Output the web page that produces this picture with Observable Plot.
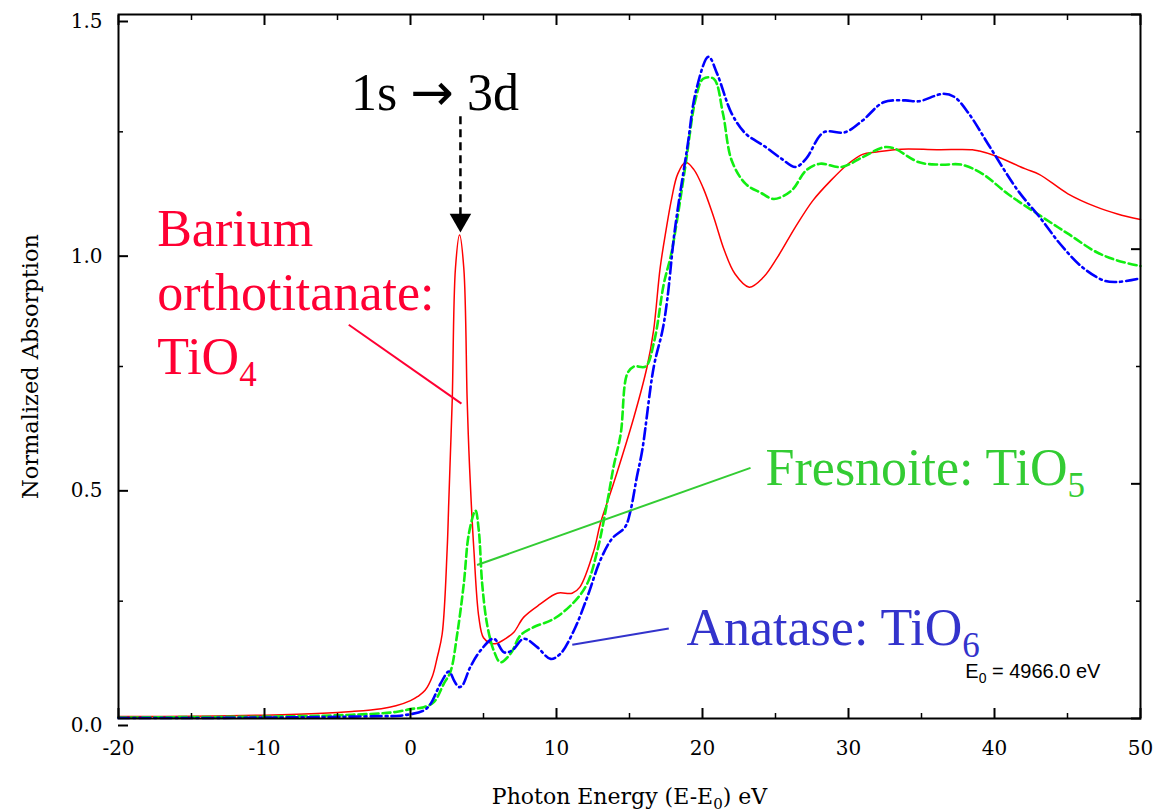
<!DOCTYPE html>
<html>
<head>
<meta charset="utf-8">
<script src="https://cdn.jsdelivr.net/npm/d3@7"></script>
<script src="https://cdn.jsdelivr.net/npm/@observablehq/plot@0.6"></script>
<style>
  html, body { margin: 0; padding: 0; background: #fff; }
  #chart { width: 1157px; height: 810px; }
</style>
</head>
<body>
<div id="chart"></div>
<script>
// ---- Barium orthotitanate: TiO4 (red, solid)
const tio4E = [-20, -15, -10, -6, -4, -2, -1, 0, 0.5, 1, 1.5, 1.83, 2.17, 2.51, 2.62, 2.74, 2.86, 3.08, 3.36, 3.65, 3.88, 4.0, 4.16, 4.34, 4.68, 5.0, 5.5, 5.9, 6.5, 7.08, 7.76, 8.9, 10.05, 11.07, 11.6, 12.56, 13.0, 13.9, 15.3, 16.2, 16.65, 17.1, 17.5, 17.9, 18.3, 18.84, 19.4, 20.05, 20.77, 21.5, 22.23, 23.2, 24.17, 25.14, 26.36, 27.57, 28.78, 29.99, 30.96, 31.93, 33.63, 36.05, 38.48, 38.97, 39.94, 42.12, 43.09, 45.03, 46.97, 48.42, 50];
const tio4A = [0.004, 0.005, 0.007, 0.011, 0.015, 0.021, 0.027, 0.038, 0.047, 0.06, 0.09, 0.13, 0.18, 0.36, 0.46, 0.57, 0.68, 0.96, 1.03, 0.96, 0.68, 0.57, 0.46, 0.36, 0.216, 0.172, 0.16, 0.16, 0.17, 0.184, 0.216, 0.244, 0.267, 0.267, 0.28, 0.358, 0.415, 0.50, 0.642, 0.749, 0.827, 0.96, 1.04, 1.11, 1.16, 1.185, 1.17, 1.13, 1.068, 0.997, 0.947, 0.919, 0.94, 0.983, 1.047, 1.104, 1.146, 1.182, 1.202, 1.207, 1.213, 1.212, 1.212, 1.209, 1.20, 1.171, 1.159, 1.118, 1.09, 1.075, 1.063];

// ---- Fresnoite: TiO5 (green, dashed)
const tio5E = [-20, -15, -10, -6, -4, -2, -1, 0, 0.9, 1.6, 2.28, 2.74, 3.2, 3.65, 4.0, 4.45, 4.68, 4.91, 5.25, 5.7, 6.16, 6.85, 7.53, 8.45, 9.8, 11.2, 12.1, 12.8, 13.5, 13.9, 14.4, 14.84, 15.3, 16.1, 16.7, 17.35, 17.86, 18.3, 18.84, 19.56, 20.05, 20.77, 21.4, 22.0, 22.96, 24.0, 24.9, 26.1, 27.1, 28.05, 29.5, 30.96, 32.4, 33.1, 34.84, 36.3, 37.75, 39.2, 40.9, 43.1, 45.03, 46.97, 48.4, 50];
const tio5A = [0.002, 0.003, 0.004, 0.006, 0.008, 0.011, 0.014, 0.02, 0.024, 0.035, 0.074, 0.10, 0.18, 0.287, 0.394, 0.443, 0.40, 0.287, 0.20, 0.145, 0.12, 0.138, 0.177, 0.195, 0.212, 0.248, 0.287, 0.358, 0.465, 0.535, 0.607, 0.734, 0.75, 0.75, 0.805, 0.926, 0.99, 1.07, 1.18, 1.324, 1.363, 1.363, 1.289, 1.189, 1.139, 1.12, 1.107, 1.125, 1.168, 1.182, 1.175, 1.196, 1.217, 1.215, 1.185, 1.18, 1.18, 1.16, 1.118, 1.072, 1.033, 0.994, 0.976, 0.964];

// ---- Anatase: TiO6 (blue, dash-dot)
const tio6E = [-20, -15, -10, -6, -4, -2, -0.7, 0.9, 1.37, 2.05, 2.63, 3.0, 3.3, 3.54, 4.1, 4.8, 5.7, 6.4, 6.96, 7.76, 8.68, 9.6, 10.27, 11.2, 12.1, 13.0, 13.8, 14.7, 15.07, 15.5, 15.87, 16.66, 17.26, 17.58, 18.1, 18.96, 19.56, 20.41, 21.0, 22.0, 22.96, 24.17, 25.4, 26.36, 27.1, 28.3, 29.75, 30.96, 32.4, 33.9, 34.8, 36.5, 37.27, 38.24, 39.7, 41.6, 43.1, 44.5, 46.0, 47.5, 48.4, 50];
const tio6A = [0.001, 0.001, 0.002, 0.003, 0.004, 0.005, 0.006, 0.017, 0.031, 0.074, 0.10, 0.08, 0.067, 0.07, 0.11, 0.145, 0.17, 0.141, 0.145, 0.17, 0.152, 0.127, 0.138, 0.188, 0.258, 0.337, 0.383, 0.408, 0.443, 0.514, 0.571, 0.749, 0.827, 0.891, 1.04, 1.217, 1.338, 1.41, 1.374, 1.289, 1.246, 1.221, 1.193, 1.175, 1.193, 1.249, 1.249, 1.274, 1.313, 1.317, 1.315, 1.331, 1.324, 1.289, 1.217, 1.125, 1.068, 1.011, 0.962, 0.933, 0.93, 0.938];

// ---- ticks
const xMajor = [-20, -10, 0, 10, 20, 30, 40, 50];
const xMinor = [-15, -5, 5, 15, 25, 35, 45];
const yMajor = [0, 0.5, 1.0, 1.5];
const yMinor = [0.25, 0.75, 1.25];

// ---- text
const xTitle = "Photon Energy (E-E_{0}) eV";
const yTitle = "Normalized Absorption";
const labels = [
  {E: -17.35, A: 0.735, text: "Barium\northotitanate:\nTiO_{4}", color: "#ff0033"},
  {E: 24.32, A: 0.4965, text: "Fresnoite: TiO_{5}", color: "#33cc33"},
  {E: 18.9, A: 0.1556, text: "Anatase: TiO_{6}", color: "#3333cc"}
];
const transition = [{E: 1.68, A: 1.2955, text: "1s \u2192 3d"}];
const edgeNote = [{E: 38.0, A: 0.0867, text: "E_{0} = 4966.0 eV"}];
const arrowShaft = [{E: 3.42, A1: 1.283, A2: 1.07}];
const arrowHead = [{E: 3.42, A: 1.062}];
const leaders = [
  {E1: -4.23, A1: 0.839, E2: 3.49, A2: 0.671, color: "#ff0033"},
  {E1: 4.56, A1: 0.327, E2: 23.29, A2: 0.534, color: "#33cc33"},
  {E1: 11.08, A1: 0.157, E2: 17.69, A2: 0.1918, color: "#3333cc"}
];

const rows = (E, A) => E.map((e, i) => ({E: e, A: A[i]}));

const serif = "'Liberation Serif', 'Times New Roman', serif";

const chart = Plot.plot({
  width: 1157,
  height: 810,
  marginLeft: 118,
  marginRight: 17,
  marginTop: 14,
  marginBottom: 92,
  style: {fontFamily: "'DejaVu Serif', serif", fontSize: "20px", background: "#fff", color: "#000", overflow: "visible"},
  x: {domain: [-20, 50]},
  y: {domain: [0, 1.5]},
  marks: [
    Plot.line(rows(tio4E, tio4A), {x: "E", y: "A", stroke: "#ff0000", strokeWidth: 1.5, curve: "catmull-rom"}),
    Plot.line(rows(tio5E, tio5A), {x: "E", y: "A", stroke: "#11ee11", strokeWidth: 2.6, strokeDasharray: "8,4", curve: "catmull-rom"}),
    Plot.line(rows(tio6E, tio6A), {x: "E", y: "A", stroke: "#0000ff", strokeWidth: 2.6, strokeDasharray: "11,4,2,4", curve: "catmull-rom"}),

    // leaders
    Plot.link(leaders, {x1: "E1", y1: "A1", x2: "E2", y2: "A2", stroke: "color", strokeWidth: 2}),
    // 1s -> 3d arrow
    Plot.link(arrowShaft, {x1: "E", x2: "E", y1: "A1", y2: "A2", stroke: "#000", strokeWidth: 2.5, strokeDasharray: "8,5"}),
    Plot.dot(arrowHead, {x: "E", y: "A", symbol: "triangle", rotate: 180, r: 8, fill: "#000", stroke: "none"}),

    // texts
    Plot.text(transition, {x: "E", y: "A", text: "text", fontFamily: serif, fontSize: 52, lineAnchor: "bottom", textAnchor: "middle", fill: "#000"}),
    Plot.text(labels, {x: "E", y: "A", text: "text", fill: "color", fontFamily: serif, fontSize: 52, lineAnchor: "bottom", textAnchor: "start", lineHeight: 1.23}),
    Plot.text(edgeNote, {x: "E", y: "A", text: "text", fontFamily: "'Liberation Sans', Arial, sans-serif", fontSize: 20, lineAnchor: "bottom", textAnchor: "start", fill: "#000"}),

    // frame and axes (inward ticks)
    Plot.frame({stroke: "#000", strokeWidth: 2}),
    Plot.axisX({anchor: "bottom", ticks: xMajor, tickSize: -10, tickPadding: 32, tickFormat: d => String(d), label: null, strokeWidth: 2}),
    Plot.axisX({anchor: "bottom", ticks: xMinor, tickSize: -5, tickFormat: () => "", label: null, strokeWidth: 1.5}),
    Plot.axisX({anchor: "top", ticks: xMajor, tickSize: -10, tickFormat: () => "", label: null, strokeWidth: 2}),
    Plot.axisX({anchor: "top", ticks: xMinor, tickSize: -5, tickFormat: () => "", label: null, strokeWidth: 1.5}),
    Plot.axisY({anchor: "left", ticks: yMajor, tickSize: -10, tickPadding: 26, dy: 7, tickFormat: d3.format(".1f"), label: null, strokeWidth: 2}),
    Plot.axisY({anchor: "left", ticks: yMinor, tickSize: -5, tickFormat: () => "", label: null, strokeWidth: 1.5}),
    Plot.axisY({anchor: "right", ticks: yMajor, tickSize: -10, tickFormat: () => "", label: null, strokeWidth: 2}),
    Plot.axisY({anchor: "right", ticks: yMinor, tickSize: -5, tickFormat: () => "", label: null, strokeWidth: 1.5}),

    // axis titles
    Plot.text([xTitle], {frameAnchor: "bottom", text: d => d, dy: 85, lineAnchor: "bottom", textAnchor: "middle", fontSize: 22, fill: "#000"}),
    Plot.text([yTitle], {frameAnchor: "left", text: d => d, rotate: -90, dx: -88, textAnchor: "middle", lineAnchor: "middle", fontSize: 22.5, fill: "#000"})
  ]
});

document.getElementById("chart").appendChild(chart);

// turn "_{n}" into real subscripts, and give the arrow glyph a wider font
(function richText(root) {
  const ns = "http://www.w3.org/2000/svg";
  const leaves = [...root.querySelectorAll("text, tspan")].filter(el => el.children.length === 0);
  for (const el of leaves) {
    const s = el.textContent;
    if (!/_\{|\u2192/.test(s)) continue;
    const fs = parseFloat(getComputedStyle(el).fontSize) || 20;
    const parts = s.split(/(_\{[^}]*\}|\u2192)/).filter(Boolean);
    el.textContent = "";
    let shifted = 0;
    for (const p of parts) {
      const t = document.createElementNS(ns, "tspan");
      if (p.startsWith("_{")) {
        const sh = Math.round(fs * 0.23);
        t.textContent = p.slice(2, -1);
        t.setAttribute("dy", sh);
        t.setAttribute("font-size", Math.round(fs * 0.68));
        shifted = sh;
      } else {
        t.textContent = p;
        if (p === "\u2192") t.setAttribute("font-family", "'DejaVu Sans', sans-serif");
        if (shifted) t.setAttribute("dy", -shifted);
        shifted = 0;
      }
      el.appendChild(t);
    }
  }
})(chart);
</script>
</body>
</html>
